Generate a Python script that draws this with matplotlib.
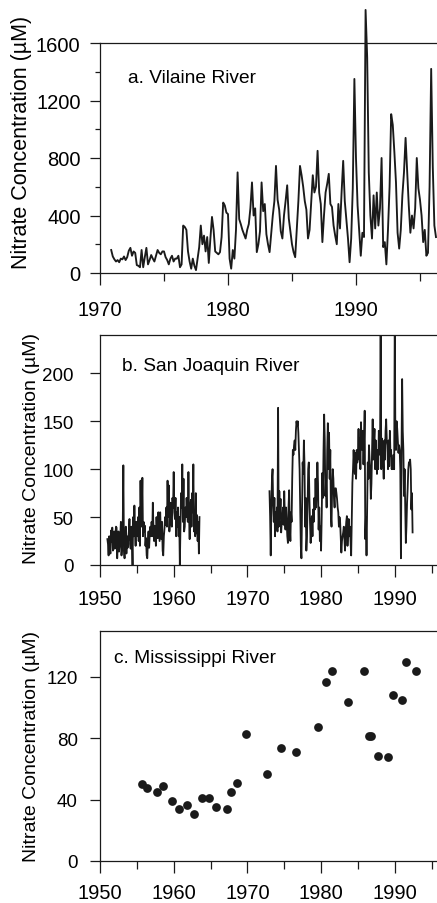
import matplotlib.pyplot as plt
import numpy as np

plt.rcParams['font.family'] = ['Liberation Sans', 'DejaVu Sans']

# a. Vilaine River, sampled every 1/8 year from 1970.875
vil_start = 1970.875
vil_step = 1 / 8
vil_values = [
    160,
    115, 95, 80, 90, 75, 100, 95, 115,            # 1971
    90, 110, 155, 175, 120, 150, 140, 55,          # 1972
    50, 40, 160, 40, 110, 175, 60, 90,             # 1973
    125, 100, 80, 120, 160, 140, 130, 150,         # 1974
    150, 110, 90, 60, 100, 120, 80, 100,           # 1975
    100, 120, 40, 60, 330, 320, 300, 150,          # 1976
    80, 30, 100, 50, 20, 100, 180, 330,            # 1977
    200, 260, 150, 250, 70, 240, 390, 300,         # 1978
    150, 140, 130, 145, 250, 490, 470, 420,        # 1979
    410, 100, 30, 160, 100, 300, 700, 375,         # 1980
    340, 300, 270, 240, 300, 340, 450, 630,        # 1981
    400, 450, 145, 200, 290, 630, 430, 480,        # 1982
    270, 200, 145, 270, 400, 500, 745, 510,        # 1983
    440, 290, 240, 400, 500, 610, 380, 290,        # 1984
    200, 145, 110, 300, 500, 745, 680, 600,        # 1985
    500, 440, 240, 300, 490, 680, 560, 600,        # 1986
    850, 560, 480, 215, 400, 560, 620, 690,        # 1987
    480, 460, 330, 260, 200, 480, 310, 560,        # 1988
    780, 500, 370, 240, 75, 240, 590, 1350,        # 1989
    800, 470, 300, 120, 280, 250, 1830, 1500,      # 1990
    700, 400, 240, 540, 310, 560, 330, 450,        # 1991
    800, 180, 215, 60, 300, 600, 1105, 1030,       # 1992
    840, 630, 280, 170, 300, 540, 700, 940,        # 1993
    700, 470, 280, 400, 310, 450, 800, 590,        # 1994
    510, 400, 215, 300, 120, 140, 600, 1420,       # 1995
    740, 330, 250,                                 # 1996
]

# b. San Joaquin River, monthly, two records with a gap
sj1_start = 1951.0
sj1_values = [
    27, 22, 10, 30, 18, 12, 36, 24, 39, 15, 20, 35,     # 1951
    17, 28, 40, 39, 7, 22, 35, 14, 20, 30, 45, 10,      # 1952
    20, 38, 104, 15, 7, 25, 40, 12, 30, 18, 27, 35,     # 1953
    48, 22, 17, 40, 25, 0, 50, 30, 62, 35, 20, 45,      # 1954
    38, 30, 50, 25, 60, 20, 88, 40, 55, 91, 30, 45,     # 1955
    35, 41, 20, 28, 10, 7, 25, 35, 18, 33, 40, 30,      # 1956
    45, 30, 65, 40, 25, 41, 35, 20, 50, 33, 28, 55,     # 1957
    40, 25, 55, 35, 27, 45, 15, 10, 30, 38, 50, 42,     # 1958
    60, 40, 88, 50, 83, 35, 52, 65, 45, 40, 70, 60,     # 1959
    97, 55, 48, 70, 30, 55, 40, 60, 30, 50, 0, 40,      # 1960
    75, 60, 105, 45, 90, 35, 40, 60, 50, 70, 55, 45,    # 1961
    97, 50, 27, 60, 68, 40, 75, 55, 105, 35, 55, 30,    # 1962
    75, 33, 52, 25, 45, 12, 50,                         # 1963
]
sj2_start = 1973.0
sj2_values = [
    77, 51, 10, 60, 90, 100, 62, 45, 70, 30, 55, 40,          # 1973
    60, 35, 164, 40, 77, 50, 69, 34, 45, 51, 60, 42,          # 1974
    77, 50, 37, 60, 45, 30, 23, 60, 78, 40, 25, 55,           # 1975
    45, 90, 120, 115, 125, 130, 120, 140, 150, 145, 150, 138, # 1976
    120, 100, 60, 20, 7, 60, 107, 95, 130, 105, 40, 70,       # 1977
    15, 30, 60, 100, 107, 70, 44, 23, 40, 51, 30, 58,         # 1978
    45, 70, 58, 90, 60, 80, 107, 85, 37, 60, 25, 40,          # 1979
    15, 50, 96, 70, 120, 157, 130, 72, 90, 60, 120, 148,      # 1980
    100, 138, 90, 120, 51, 40, 80, 100, 90, 70, 60, 80,       # 1981
    80, 75, 69, 60, 55, 40, 50, 45, 30, 13, 25, 30,           # 1982
    34, 40, 27, 15, 35, 45, 51, 20, 35, 48, 30, 40,           # 1983
    25, 10, 45, 86, 100, 120, 103, 95, 117, 90, 120, 107,     # 1984
    117, 142, 110, 132, 100, 149, 125, 120, 140, 105, 130, 161,  # 1985
    27, 50, 10, 60, 107, 90, 125, 110, 100, 69, 85, 120,      # 1986
    152, 110, 128, 142, 100, 130, 114, 95, 120, 100, 140, 130,   # 1987
    115, 260, 100, 132, 120, 107, 90, 130, 110, 140, 152, 130,   # 1988
    125, 100, 130, 103, 140, 114, 120, 100, 110, 100, 115, 100,  # 1989
    260, 130, 120, 150, 142, 130, 117, 125, 120, 100, 7, 120,    # 1990
    194, 140, 120, 72, 100, 60, 23, 40, 65, 80, 100, 107,     # 1991
    107, 110, 100, 58, 75, 34,                                # 1992
]

# c. Mississippi River, annual means
miss_years = [1955.65, 1956.4, 1957.7, 1958.6, 1959.7, 1960.75, 1961.8, 1962.75,
              1963.8, 1964.8, 1965.7, 1967.2, 1967.8, 1968.6, 1969.75, 1972.65,
              1974.5, 1976.55, 1979.6, 1980.6, 1981.4, 1983.6, 1985.85, 1986.5,
              1986.75, 1987.75, 1989.0, 1989.7, 1991.0, 1991.5, 1992.9]
miss_values = [50, 47.5, 45, 49, 39, 34, 36.5, 30.4,
               41, 41, 35, 33.7, 44.7, 51, 83, 57,
               73.4, 71, 87.5, 117, 124, 104, 124, 81.6,
               81.6, 68.8, 67.8, 108, 105, 130, 124]

ylabel = 'Nitrate Concentration (µM)'
ink = '#1a1a1a'

fig = plt.figure(figsize=(4.37, 9.04), dpi=100)
ax_a = fig.add_axes([100 / 437, 630 / 904, 337 / 437, 230 / 904])
ax_b = fig.add_axes([100 / 437, 338 / 904, 337 / 437, 230 / 904])
ax_c = fig.add_axes([100 / 437, 42 / 904, 337 / 437, 230 / 904])

vil_t = vil_start + vil_step * np.arange(len(vil_values))
ax_a.plot(vil_t, vil_values, color=ink, lw=1.35, clip_on=False)

sj1_t = sj1_start + np.arange(len(sj1_values)) / 12
sj2_t = sj2_start + np.arange(len(sj2_values)) / 12
ax_b.plot(sj1_t, sj1_values, color=ink, lw=1.3)
ax_b.plot(sj2_t, sj2_values, color=ink, lw=1.3)

ax_c.plot(miss_years, miss_values, 'o', color=ink, ms=6.3, mec='none')

ax_a.set_xlim(1970, 1996.33)
ax_a.set_ylim(0, 1600)
ax_a.set_xticks([1970, 1980, 1990])
ax_a.set_xticks([1975, 1985, 1995], minor=True)
ax_a.set_yticks([0, 400, 800, 1200, 1600])
ax_a.set_yticks([200, 600, 1000, 1400], minor=True)

ax_b.set_xlim(1950, 1995.73)
ax_b.set_ylim(0, 240)
ax_b.set_xticks([1950, 1960, 1970, 1980, 1990])
ax_b.set_xticks([1955, 1965, 1975, 1985, 1995], minor=True)
ax_b.set_yticks([0, 50, 100, 150, 200])

ax_c.set_xlim(1950, 1995.7)
ax_c.set_ylim(0, 150)
ax_c.set_xticks([1950, 1960, 1970, 1980, 1990])
ax_c.set_xticks([1955, 1965, 1975, 1985, 1995], minor=True)
ax_c.set_yticks([0, 40, 80, 120])

panels = [
    (ax_a, 'a. Vilaine River', 0.083, 0.852, -0.234, 0.574, 15.5, 14.5, 11),
    (ax_b, 'b. San Joaquin River', 0.065, 0.867, -0.202, 0.513, 14, 13.5, 8.5),
    (ax_c, 'c. Mississippi River', 0.042, 0.883, -0.202, 0.5, 14, 13.5, 7.5),
]
for ax, title, tx, ty, lx, ly, lsize, ysize, xpad in panels:
    ax.spines['right'].set_visible(False)
    for s in ['left', 'top', 'bottom']:
        ax.spines[s].set_linewidth(0.9)
        ax.spines[s].set_color(ink)
    ax.tick_params(axis='x', which='major', direction='out', length=8.5, width=0.9,
                   pad=xpad, labelsize=14.5, color=ink)
    ax.tick_params(axis='x', which='minor', direction='out', length=5.5, width=0.9, color=ink)
    ax.tick_params(axis='y', which='major', direction='out', length=7, width=0.9,
                   pad=7, labelsize=ysize, color=ink)
    ax.tick_params(axis='y', which='minor', direction='out', length=3.5, width=0.9, color=ink)
    ax.text(tx, ty, title, transform=ax.transAxes, fontsize=13.8, ha='left', va='center')
    ax.set_ylabel(ylabel, fontsize=lsize, va='center')
    ax.yaxis.set_label_coords(lx, ly)

ax_a.tick_params(axis='y', labelsize=14.5, pad=7)
ax_b.tick_params(axis='y', pad=12)
ax_c.tick_params(axis='y', pad=9)

fig.savefig('out.png', dpi=100)
